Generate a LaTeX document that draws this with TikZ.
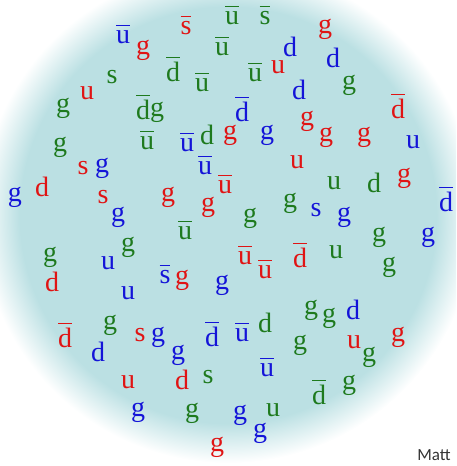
\documentclass[tikz,border=0pt]{standalone}
\usepackage{fontspec}
\setmainfont{Liberation Serif}
\newfontfamily\mattfont{Carlito}
\usetikzlibrary{positioning}
\definecolor{QRed}{HTML}{E01414}
\definecolor{QBlue}{HTML}{1414D8}
\definecolor{QGreen}{HTML}{1E7A1E}
\definecolor{Soup}{HTML}{BBE0E3}
\definecolor{Sign}{HTML}{333333}
\pgfdeclareradialshading{soupglow}{\pgfpoint{0bp}{0bp}}{color(0bp)=(Soup); color(21bp)=(Soup); color(25bp)=(white); color(50bp)=(white)}
% antiquark: bar over the letter, kept out of the node box
\newcommand\anti[1]{\setbox0\hbox{#1}\rlap{\smash{\rule[\dimexpr\ht0+4pt\relax]{\wd0}{1.2pt}}}\box0}
\newcommand\quarkfont{\fontsize{28}{30}\selectfont}
\tikzset{
    quark/.style={inner sep=0pt, font=\quarkfont},
    redq/.style={quark, text=QRed},
    blueq/.style={quark, text=QBlue},
    greenq/.style={quark, text=QGreen},
}
\begin{document}
\begin{tikzpicture}[x=1pt, y=-1pt]
    \useasboundingbox (0,0) rectangle (456,466);

    % Soup
    \begin{scope}
        \clip (0,0) rectangle (456,466);
        \shade[shading=soupglow] (228,215) circle (248);
    \end{scope}

    % Red
    \foreach \x/\y/\q [count=\i] in {143/50/g, 186/28/\anti{s}, 325/29/g, 87/93/u, 278/67/u,
        307/121/g, 398/109/\anti{d}, 230/135/g, 326/137/g, 364/137/g, 83/168/s, 297/162/u,
        42/187/d, 103/197/s, 168/197/g, 225/187/\anti{u}, 208/207/g, 404/178/g,
        245/258/\anti{u}, 265/272/\anti{u}, 300/258/\anti{d}, 52/282/d, 182/280/g,
        65/338/\anti{d}, 140/335/s, 354/342/u, 398/337/g, 128/382/u, 182/380/d, 217/447/g}
        \node[redq] (r\i) at (\x,\y) {\q};

    % Blue
    \foreach \x/\y/\q [count=\i] in {123/37/\anti{u}, 290/47/d, 333/58/d, 299/90/d, 242/112/\anti{d},
        187/145/\anti{u}, 267/135/g, 413/142/u, 102/168/g, 205/168/\anti{u}, 15/197/g,
        446/202/\anti{d}, 118/217/g, 316/210/s, 344/217/g, 428/237/g, 108/263/u, 128/293/u,
        165/277/\anti{s}, 222/285/g, 158/337/g, 178/355/g, 212/337/\anti{d}, 242/335/\anti{u},
        353/310/d, 98/352/d, 267/370/\anti{u}, 138/412/g, 240/415/g, 260/433/g}
        \node[blueq] (b\i) at (\x,\y) {\q};

    % Green
    \foreach \x/\y/\q [count=\i] in {232/18/\anti{u}, 265/18/\anti{s}, 112/77/s, 173/72/\anti{d},
        222/49/\anti{u}, 255/75/\anti{u}, 202/85/\anti{u}, 349/85/g, 63/108/g, 143/110/\anti{d},
        157/112/g, 60/147/g, 147/143/\anti{u}, 207/135/d, 334/183/u, 374/183/d, 290/203/g,
        250/218/g, 185/233/\anti{u}, 128/247/g, 379/237/g, 50/257/g, 336/252/u, 389/267/g,
        110/325/g, 265/323/d, 311/310/g, 329/318/g, 300/345/g, 369/357/g, 208/377/s,
        319/395/\anti{d}, 349/385/g, 192/413/g, 273/410/u}
        \node[greenq] (g\i) at (\x,\y) {\q};

    \node[font=\mattfont\fontsize{17}{19}\selectfont, text=Sign, inner sep=0pt] (matt) at (434,455) {Matt};
\end{tikzpicture}
\end{document}
